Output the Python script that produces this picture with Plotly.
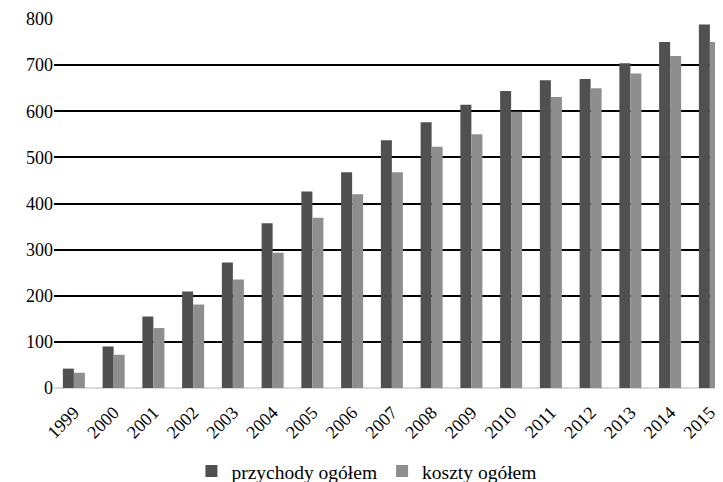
import plotly.graph_objects as go

years = ["1999", "2000", "2001", "2002", "2003", "2004", "2005", "2006", "2007",
         "2008", "2009", "2010", "2011", "2012", "2013", "2014", "2015"]
przychody = [42, 90, 155, 209, 272, 357, 426, 468, 537, 576, 614, 644, 667, 670, 704, 750, 788]
koszty = [33, 72, 130, 181, 235, 293, 369, 420, 468, 523, 550, 599, 631, 650, 682, 720, 750]
y_ticks = [0, 100, 200, 300, 400, 500, 600, 700, 800]

FONT = "Liberation Serif"

fig = go.Figure()
fig.add_trace(go.Bar(name="przychody ogółem", x=years, y=przychody,
                     marker=dict(color="#505050", line=dict(width=0))))
fig.add_trace(go.Bar(name="koszty ogółem", x=years, y=koszty,
                     marker=dict(color="#8e8e8e", line=dict(width=0))))

# the page body has an 8px margin, so the figure is 8px smaller and offset
fig.update_layout(
    width=715, height=474,
    margin=dict(l=46, r=0, t=11, b=94, autoexpand=False),
    paper_bgcolor="white", plot_bgcolor="white",
    barmode="group", bargap=0.446, bargroupgap=0,
    font=dict(family=FONT, size=18, color="black"),
    showlegend=True,
    legend=dict(orientation="h", x=0.467, xanchor="center", y=-0.226, yanchor="middle",
                font=dict(family=FONT, size=19.5, color="black"),
                itemwidth=30, tracegroupgap=0),
    xaxis=dict(type="category", range=[-0.5, 16.33], tickangle=-45,
               showgrid=False, showline=False, automargin=False,
               ticks="outside", ticklen=6, tickcolor="rgba(0,0,0,0)",
               tickfont=dict(family=FONT, size=18, color="black")),
    yaxis=dict(range=[0, 800], tickvals=y_ticks, ticktext=[str(v) for v in y_ticks],
               showgrid=True, gridcolor="black", gridwidth=1.5,
               zeroline=True, zerolinecolor="#d9d9d9", zerolinewidth=2,
               showline=False, ticks="", ticklen=0, automargin=False,
               tickfont=dict(family=FONT, size=18, color="black")),
)

fig.write_html("out.html")
